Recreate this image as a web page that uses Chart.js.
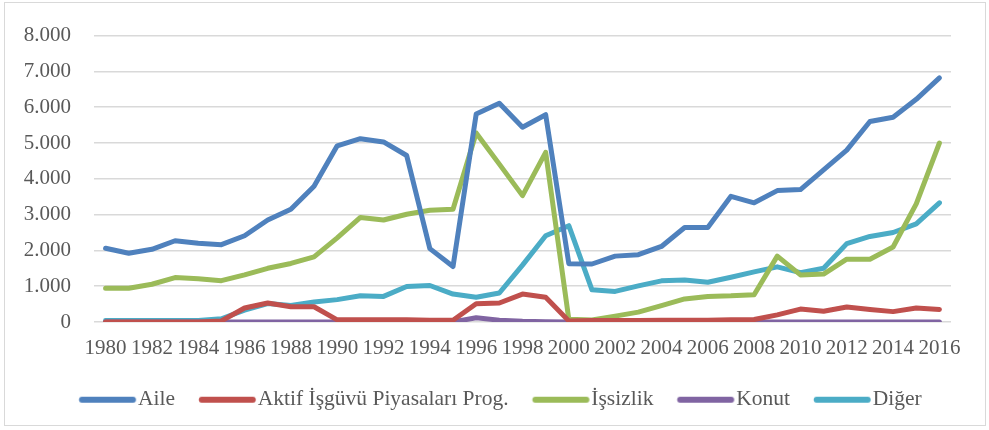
<!DOCTYPE html>
<html>
<head>
<meta charset="utf-8">
<script src="https://cdn.jsdelivr.net/npm/chart.js@4"></script>
<style>
  body { margin: 0; background: #fff; }
  #kutu { position: absolute; left: 4px; top: 2px; width: 982px; height: 424px; border: 1px solid #d9d9d9; box-sizing: border-box; }
  #cerceve { position: absolute; left: 0; top: 0; width: 989px; height: 430px; }
</style>
</head>
<body>
<div id="kutu"></div>
<div id="cerceve"><canvas id="grafik" width="989" height="430"></canvas></div>
<script>
const yillar = [];
for (let y = 1980; y <= 2016; y++) yillar.push(String(y));

const aile = [2060, 1920, 2030, 2270, 2200, 2160, 2410, 2850, 3150, 3790, 4920, 5120, 5030, 4650, 2050, 1550,
  5810, 6110, 5440, 5790, 1630, 1620, 1840, 1880, 2110, 2640, 2640, 3510, 3330, 3670, 3700, 4250,
  4800, 5600, 5720, 6220, 6820];
const aktif = [0, 0, 0, 0, 0, 30, 390, 530, 425, 425, 60, 60, 60, 60, 50, 50,
  510, 530, 780, 690, 30, 40, 40, 40, 50, 50, 50, 60, 70, 200, 360, 300,
  420, 350, 290, 390, 350];
const issizlik = [945, 945, 1055, 1240, 1210, 1155, 1315, 1500, 1635, 1820, 2350, 2920, 2850, 3010, 3120, 3150,
  5280, 4410, 3530, 4740, 75, 55, 165, 275, 460, 645, 715, 730, 760, 1840, 1315, 1340,
  1755, 1755, 2095, 3300, 5000];
const konut = [0, 0, 0, 0, 0, 0, 0, 0, 0, 0, 0, 0, 0, 0, 0, 0,
  120, 50, 20, 10, 0, 0, 0, 0, 0, 0, 0, 0, 0, 0, 0, 0,
  0, 0, 0, 0, 0];
const diger = [45, 40, 45, 45, 45, 90, 330, 515, 460, 560, 625, 735, 715, 990, 1020, 780,
  690, 810, 1590, 2410, 2690, 900, 855, 1010, 1150, 1175, 1110, 1250, 1400, 1540, 1380, 1500,
  2190, 2390, 2500, 2740, 3330];

const seriler = [
  { label: 'Aile', data: aile, renk: '#4f81bd' },
  { label: 'Aktif İşgüvü Piyasaları Prog.', data: aktif, renk: '#c0504d' },
  { label: 'İşsizlik', data: issizlik, renk: '#9bbb59' },
  { label: 'Konut', data: konut, renk: '#8064a2' },
  { label: 'Diğer', data: diger, renk: '#4bacc6' }
];

const aile_font = '"Liberation Serif", "Times New Roman", serif';
const yazi = { family: aile_font, size: 21 };
const lejantYazi = { family: aile_font, size: 21.5 };

// lejant için yuvarlak uçlu çizgi resmi (yazıya yakın dursun diye sağa kaydırılmış)
function cizgiResmi(renk) {
  const c = document.createElement('canvas');
  c.width = 78;
  c.height = 8;
  const g = c.getContext('2d');
  g.strokeStyle = renk;
  g.lineWidth = 6;
  g.lineCap = 'round';
  g.beginPath();
  g.moveTo(15.75, 4);
  g.lineTo(66.75, 4);
  g.stroke();
  return c;
}

// lejantı referanstaki yerine oturt
const yerlesim = {
  id: 'yerlesim',
  afterLayout(chart) {
    const lg = chart.legend;
    const pad = lg.options.labels.padding;
    const h = lg.bottom - lg.top;
    lg.top = 401 - pad - 12;
    lg.bottom = lg.top + h;
    const bas = (lg.left + pad + lg.right - lg.lineWidths[0]) / 2;
    const dx = 83.25 - bas;
    lg.left += dx;
    lg.right += dx;
  }
};

new Chart(document.getElementById('grafik').getContext('2d'), {
  type: 'line',
  data: {
    labels: yillar,
    datasets: seriler.map(s => ({
      label: s.label,
      data: s.data,
      borderColor: s.renk,
      backgroundColor: s.renk,
      borderWidth: 5,
      pointRadius: 0,
      tension: 0,
      borderCapStyle: 'round',
      borderJoinStyle: 'round'
    }))
  },
  plugins: [yerlesim],
  options: {
    responsive: false,
    animation: false,
    layout: { padding: { left: 20, right: 38, top: 20, bottom: 0 } },
    plugins: {
      tooltip: { enabled: false },
      legend: {
        position: 'bottom',
        labels: {
          font: lejantYazi,
          color: '#595959',
          usePointStyle: true,
          pointStyleWidth: 44,
          boxHeight: 6,
          padding: 28,
          generateLabels: chart => chart.data.datasets.map((d, i) => ({
            text: d.label,
            fillStyle: d.borderColor,
            strokeStyle: d.borderColor,
            pointStyle: cizgiResmi(d.borderColor),
            lineWidth: 0,
            fontColor: '#595959',
            datasetIndex: i
          }))
        }
      }
    },
    scales: {
      x: {
        offset: true,
        grid: { display: false, drawTicks: false },
        border: { display: false },
        afterFit: s => { s.height = 430 - s.chart.legend.height - 322; },
        ticks: {
          font: yazi,
          color: '#595959',
          autoSkip: false,
          maxRotation: 0,
          padding: 14,
          callback: function (v, i) { return i % 2 === 0 ? this.getLabelForValue(v) : ''; }
        }
      },
      y: {
        min: 0,
        max: 8000,
        grid: { color: '#d9d9d9', lineWidth: 1.5, drawTicks: false },
        border: { display: false },
        afterFit: s => { s.width = 74; },
        ticks: {
          stepSize: 1000,
          font: yazi,
          color: '#595959',
          padding: 23,
          callback: v => v === 0 ? '0' : (v / 1000).toFixed(3)
        }
      }
    }
  }
});
</script>
</body>
</html>
